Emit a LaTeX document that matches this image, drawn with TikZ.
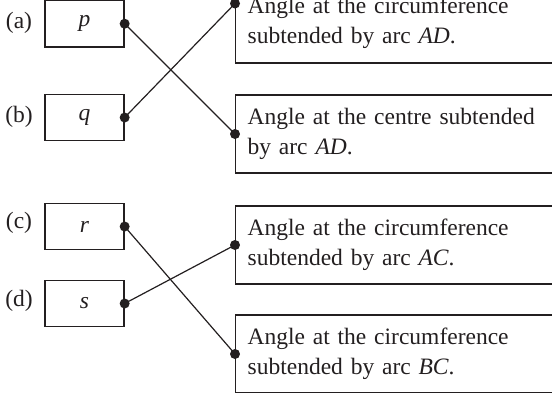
\documentclass[tikz,border=0pt]{standalone}
\usepackage{fontspec}
\setmainfont{Liberation Serif}
\definecolor{ink}{HTML}{231F20}
\begin{document}
\begin{tikzpicture}[x=1pt,y=-1pt,
  every node/.style={font=\fontsize{23.5}{30}\selectfont, text=ink},
  leftbox/.style={draw=ink, line width=1.3pt, minimum width=79pt, minimum height=46.5pt, inner sep=0pt},
  rightbox/.style={draw=ink, line width=1.3pt, anchor=west, minimum width=330pt, inner xsep=12pt, inner ysep=0pt, text width=306pt, align=left},
  lbl/.style={inner sep=0pt},
  dot/.style={fill=ink},
  link/.style={draw=ink, line width=1.2pt}]
\useasboundingbox (0,0) rectangle (552,392);
\clip (0,0) rectangle (552,392);
% left boxes
\node[leftbox] (p) at (84.5,23.7) {\textit{p}};
\node[leftbox] (q) at (84.5,117.5) {\textit{q}};
\node[leftbox] (r) at (84.5,226.5) {\textit{r}};
\node[leftbox] (s) at (84.5,303.5) {\textit{s}};
% labels
\node[lbl] (la) at (19,23) {(a)};
\node[lbl] (lb) at (19,117) {(b)};
\node[lbl] (lc) at (19,223) {(c)};
\node[lbl] (ld) at (19,301) {(d)};
% right boxes
\node[rightbox, minimum height=81pt] (R1) at (235,22.5) {Angle at the circumference\\subtended by arc \textit{AD}.};
\node[rightbox, minimum height=78pt] (R2) at (235,134) {Angle at the centre subtended\\by arc \textit{AD}.};
\node[rightbox, minimum height=78pt] (R3) at (235,245) {Angle at the circumference\\subtended by arc \textit{AC}.};
\node[rightbox, minimum height=78pt] (R4) at (235,354) {Angle at the circumference\\subtended by arc \textit{BC}.};
\coordinate (R1d) at (235,3.5);
% connectors
\path[link] (p.east) -- (R2.west);
\path[link] (q.east) -- (R1d);
\path[link] (r.east) -- (R4.west);
\path[link] (s.east) -- (R3.west);
% dots
\foreach \c in {p.east,q.east,r.east,s.east,R1d,R2.west,R3.west,R4.west}
  \fill[dot] (\c) circle (5pt);
\end{tikzpicture}
\end{document}
